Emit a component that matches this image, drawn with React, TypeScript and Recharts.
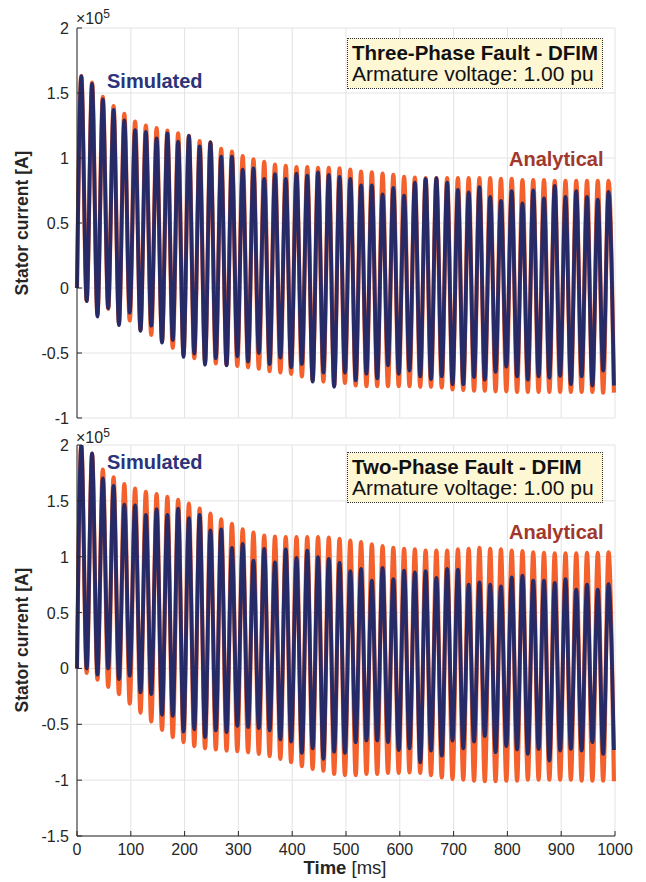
import React from 'react'
import { CartesianGrid, Line, LineChart, XAxis, YAxis } from 'recharts'

// times (ms) of the crests and troughs
const peakMs = [8, 28, 48, 68, 88, 108, 128, 148, 168, 188, 208, 228, 248, 268, 288, 308, 328, 348, 368, 388,
  408, 428, 448, 468, 488, 508, 528, 548, 568, 588, 608, 628, 648, 668, 688, 708, 728, 748, 768, 788,
  808, 828, 848, 868, 888, 908, 928, 948, 968, 988]
const troughMs = [18, 38, 58, 78, 98, 118, 138, 158, 178, 198, 218, 238, 258, 278, 298, 318, 338, 358, 378, 398,
  418, 438, 458, 478, 498, 518, 538, 558, 578, 598, 618, 638, 658, 678, 698, 718, 738, 758, 778, 798,
  818, 838, 858, 878, 898, 918, 938, 958, 978, 998]

// stator current, x10^5 A
const threeAnalyticalPeaks = [1.63, 1.58, 1.47, 1.40, 1.34, 1.28, 1.25, 1.23, 1.21, 1.19,
  1.17, 1.13, 1.12, 1.07, 1.05, 1.015, 0.99, 0.97, 0.95, 0.94,
  0.93, 0.93, 0.925, 0.925, 0.92, 0.91, 0.895, 0.89, 0.88, 0.87,
  0.855, 0.85, 0.845, 0.845, 0.845, 0.845, 0.845, 0.845, 0.845, 0.84,
  0.84, 0.83, 0.83, 0.83, 0.825, 0.825, 0.825, 0.825, 0.825, 0.825]
const threeAnalyticalTroughs = [-0.1, -0.2, -0.16, -0.27, -0.25, -0.32, -0.36, -0.41, -0.46, -0.51,
  -0.54, -0.57, -0.58, -0.59, -0.6, -0.61, -0.62, -0.64, -0.65, -0.66,
  -0.68, -0.71, -0.72, -0.75, -0.73, -0.75, -0.755, -0.755, -0.755, -0.755,
  -0.755, -0.76, -0.76, -0.765, -0.78, -0.785, -0.79, -0.79, -0.795, -0.795,
  -0.8, -0.8, -0.8, -0.8, -0.8, -0.8, -0.8, -0.8, -0.805, -0.805]
const threeSimulatedPeaks = [1.63, 1.57, 1.45, 1.37, 1.29, 1.215, 1.2, 1.15, 1.19, 1.125,
  1.17, 1.09, 1.12, 1.01, 1.01, 0.91, 0.92, 0.84, 0.875, 0.84,
  0.88, 0.865, 0.89, 0.87, 0.855, 0.84, 0.79, 0.79, 0.72, 0.77,
  0.71, 0.81, 0.84, 0.845, 0.81, 0.755, 0.735, 0.775, 0.7, 0.67,
  0.745, 0.65, 0.75, 0.69, 0.785, 0.7, 0.745, 0.7, 0.68, 0.74]
const threeSimulatedTroughs = [-0.1, -0.22, -0.155, -0.285, -0.19, -0.33, -0.29, -0.42, -0.4, -0.53,
  -0.505, -0.59, -0.54, -0.595, -0.525, -0.565, -0.5, -0.585, -0.535, -0.61,
  -0.585, -0.72, -0.65, -0.76, -0.65, -0.71, -0.66, -0.695, -0.595, -0.66,
  -0.635, -0.68, -0.7, -0.68, -0.74, -0.74, -0.685, -0.705, -0.645, -0.605,
  -0.68, -0.705, -0.68, -0.69, -0.675, -0.74, -0.68, -0.75, -0.635, -0.75]

const twoAnalyticalPeaks = [2.0, 1.92, 1.78, 1.71, 1.65, 1.61, 1.58, 1.56, 1.535, 1.51,
  1.475, 1.43, 1.385, 1.335, 1.295, 1.245, 1.215, 1.19, 1.18, 1.175,
  1.175, 1.175, 1.175, 1.17, 1.16, 1.145, 1.13, 1.11, 1.095, 1.08,
  1.07, 1.065, 1.055, 1.055, 1.055, 1.065, 1.07, 1.08, 1.07, 1.065,
  1.055, 1.05, 1.04, 1.035, 1.03, 1.03, 1.03, 1.035, 1.035, 1.04]
const twoAnalyticalTroughs = [-0.04, -0.1, -0.165, -0.23, -0.315, -0.395, -0.475, -0.55, -0.615, -0.66,
  -0.695, -0.715, -0.725, -0.735, -0.74, -0.75, -0.765, -0.785, -0.81, -0.84,
  -0.875, -0.9, -0.915, -0.945, -0.955, -0.955, -0.945, -0.945, -0.935, -0.935,
  -0.93, -0.935, -0.955, -0.975, -0.99, -0.995, -1.005, -1.01, -1.01, -1.005,
  -1.005, -0.995, -0.995, -0.995, -0.995, -0.995, -1.005, -1.005, -1.005, -1.01]
const twoSimulatedPeaks = [2.0, 1.925, 1.7, 1.635, 1.465, 1.46, 1.375, 1.425, 1.375, 1.43,
  1.345, 1.375, 1.235, 1.245, 1.08, 1.115, 0.965, 1.07, 0.95, 1.065,
  0.99, 1.055, 0.995, 0.98, 0.945, 0.87, 0.89, 0.785, 0.9, 0.8,
  0.875, 0.86, 0.87, 0.81, 0.89, 0.885, 0.75, 0.77, 0.75, 0.735,
  0.815, 0.83, 0.785, 0.785, 0.765, 0.8, 0.705, 0.75, 0.705, 0.755]
const twoSimulatedTroughs = [0.0, -0.055, 0.0, -0.095, -0.065, -0.215, -0.23, -0.415, -0.425, -0.565,
  -0.545, -0.615, -0.555, -0.57, -0.515, -0.525, -0.535, -0.555, -0.635, -0.655,
  -0.755, -0.715, -0.81, -0.745, -0.755, -0.66, -0.645, -0.645, -0.66, -0.73,
  -0.715, -0.84, -0.735, -0.78, -0.645, -0.715, -0.655, -0.605, -0.75, -0.695,
  -0.725, -0.765, -0.72, -0.825, -0.735, -0.72, -0.735, -0.66, -0.765, -0.73]

const timeTicks = [0, 100, 200, 300, 400, 500, 600, 700, 800, 900, 1000]
const threePhaseTicks = [-1, -0.5, 0, 0.5, 1, 1.5, 2]
const twoPhaseTicks = [-1.5, -1, -0.5, 0, 0.5, 1, 1.5, 2]

const FONT = '"Liberation Sans", Arial, Helvetica, sans-serif'
const ORANGE = '#f4612d'
const NAVY = '#262a66'
const AXIS = '#262626'
const TICK_LEN = 5

function buildWave (peaks: number[], troughs: number[]) {
  const pts = [{ t: 0, v: 0 }]
  peaks.forEach((p, k) => {
    pts.push({ t: peakMs[k], v: p })
    pts.push({ t: troughMs[k], v: troughs[k] })
  })
  return pts
}

const bottomTick = (showLabel: boolean) => (p: any) => (
  <g>
    <line x1={p.x} y1={p.y} x2={p.x} y2={p.y - TICK_LEN} stroke={AXIS} />
    {showLabel && (
      <text x={p.x} y={p.y + 19} textAnchor="middle" fontSize={16} fontFamily={FONT} fill={AXIS}>
        {p.payload.value}
      </text>
    )}
  </g>
)
const topTick = (p: any) => <line x1={p.x} y1={p.y} x2={p.x} y2={p.y + TICK_LEN} stroke={AXIS} />
const leftTick = (p: any) => (
  <g>
    <line x1={p.x} y1={p.y} x2={p.x + TICK_LEN} y2={p.y} stroke={AXIS} />
    <text x={p.x - 8} y={p.y + 6} textAnchor="end" fontSize={16} fontFamily={FONT} fill={AXIS}>
      {String(p.payload.value)}
    </text>
  </g>
)
const rightTick = (p: any) => <line x1={p.x} y1={p.y} x2={p.x - TICK_LEN} y2={p.y} stroke={AXIS} />

interface PanelProps {
  top: number
  height: number
  margin: { top: number, right: number, bottom: number, left: number }
  yTicks: number[]
  analytical: { t: number, v: number }[]
  simulated: { t: number, v: number }[]
  showTimeLabels: boolean
  xAxisHeight: number
}

function Panel (props: PanelProps) {
  const yDomain = [props.yTicks[0], props.yTicks[props.yTicks.length - 1]]
  return (
    <div style={{ position: 'absolute', left: 0, top: props.top }}>
      <LineChart width={646} height={props.height} margin={props.margin}>
        <CartesianGrid stroke="#e3e3e3" />
        <XAxis dataKey="t" type="number" domain={[0, 1000]} ticks={timeTicks} interval={0}
          height={props.xAxisHeight} tickSize={0} tickMargin={0}
          axisLine={{ stroke: AXIS }} tickLine={false} tick={bottomTick(props.showTimeLabels)} />
        <XAxis xAxisId="top" orientation="top" type="number" domain={[0, 1000]} ticks={timeTicks}
          interval={0} height={0} tickSize={0} tickMargin={0} allowDataOverflow
          axisLine={{ stroke: AXIS }} tickLine={false} tick={topTick} />
        <YAxis type="number" domain={yDomain} ticks={props.yTicks} interval={0} width={77}
          tickSize={0} tickMargin={0} allowDataOverflow
          axisLine={{ stroke: AXIS }} tickLine={false} tick={leftTick} />
        <YAxis yAxisId="right" orientation="right" type="number" domain={yDomain} ticks={props.yTicks}
          interval={0} width={0} tickSize={0} tickMargin={0} allowDataOverflow
          axisLine={{ stroke: AXIS }} tickLine={false} tick={rightTick} />
        <Line data={props.analytical} dataKey="v" type="monotone" stroke={ORANGE} strokeWidth={4.2}
          dot={false} isAnimationActive={false} strokeLinejoin="round" />
        <Line data={props.simulated} dataKey="v" type="monotone" stroke={NAVY} strokeWidth={3.8}
          dot={false} isAnimationActive={false} strokeLinejoin="round" />
      </LineChart>
    </div>
  )
}

const textBase: React.CSSProperties = { position: 'absolute', fontFamily: FONT, whiteSpace: 'nowrap' }

function Exponent ({ top }: { top: number }) {
  return (
    <div style={{ ...textBase, left: 76, top, fontSize: 16, color: AXIS }}>
      ×10<sup style={{ fontSize: 12, verticalAlign: 'super', lineHeight: 0 }}>5</sup>
    </div>
  )
}

function InfoBox ({ top, title }: { top: number, title: string }) {
  return (
    <div style={{
      ...textBase, left: 347, top, width: 256, height: 51, background: '#fdf7d4',
      border: '1px dotted #333', fontSize: 21, lineHeight: '21px', color: '#111',
      padding: '3px 0 0 4px', boxSizing: 'border-box'
    }}>
      <div style={{ fontWeight: 'bold', fontSize: 20.5 }}>{title}</div>
      <div>Armature voltage: 1.00 pu</div>
    </div>
  )
}

function SeriesTag ({ left, top, color, text }: { left: number, top: number, color: string, text: string }) {
  return <div style={{ ...textBase, left, top, fontSize: 20, fontWeight: 'bold', color }}>{text}</div>
}

function YTitle ({ centerY }: { centerY: number }) {
  return (
    <div style={{
      ...textBase, left: 22, top: centerY, fontSize: 17.5, fontWeight: 'bold', color: AXIS,
      transform: 'translate(-50%, -50%) rotate(-90deg)'
    }}>
      Stator current [A]
    </div>
  )
}

export default function App () {
  const threeAnalytical = buildWave(threeAnalyticalPeaks, threeAnalyticalTroughs)
  const threeSimulated = buildWave(threeSimulatedPeaks, threeSimulatedTroughs)
  const twoAnalytical = buildWave(twoAnalyticalPeaks, twoAnalyticalTroughs)
  const twoSimulated = buildWave(twoSimulatedPeaks, twoSimulatedTroughs)
  return (
    <div style={{ position: 'absolute', left: 0, top: 0, width: 646, height: 882, background: '#fff', overflow: 'hidden' }}>
      <Panel top={0} height={430} margin={{ top: 28, right: 31, bottom: 12, left: 0 }}
        yTicks={threePhaseTicks} analytical={threeAnalytical} simulated={threeSimulated}
        showTimeLabels={false} xAxisHeight={0} />
      <Panel top={430} height={452} margin={{ top: 15, right: 31, bottom: 0, left: 0 }}
        yTicks={twoPhaseTicks} analytical={twoAnalytical} simulated={twoSimulated}
        showTimeLabels xAxisHeight={46} />

      <Exponent top={10} />
      <Exponent top={429} />
      <InfoBox top={38} title="Three-Phase Fault - DFIM" />
      <InfoBox top={452} title="Two-Phase Fault - DFIM" />
      <SeriesTag left={107} top={70} color="#2c3378" text="Simulated" />
      <SeriesTag left={107} top={451} color="#2c3378" text="Simulated" />
      <SeriesTag left={509} top={148} color="#a2372c" text="Analytical" />
      <SeriesTag left={509} top={521} color="#a2372c" text="Analytical" />
      <YTitle centerY={223} />
      <YTitle centerY={640} />
      <div style={{ ...textBase, left: 345, top: 868, transform: 'translate(-50%, -50%)', fontSize: 18.5, color: AXIS }}>
        <b>Time</b> [ms]
      </div>
    </div>
  )
}
